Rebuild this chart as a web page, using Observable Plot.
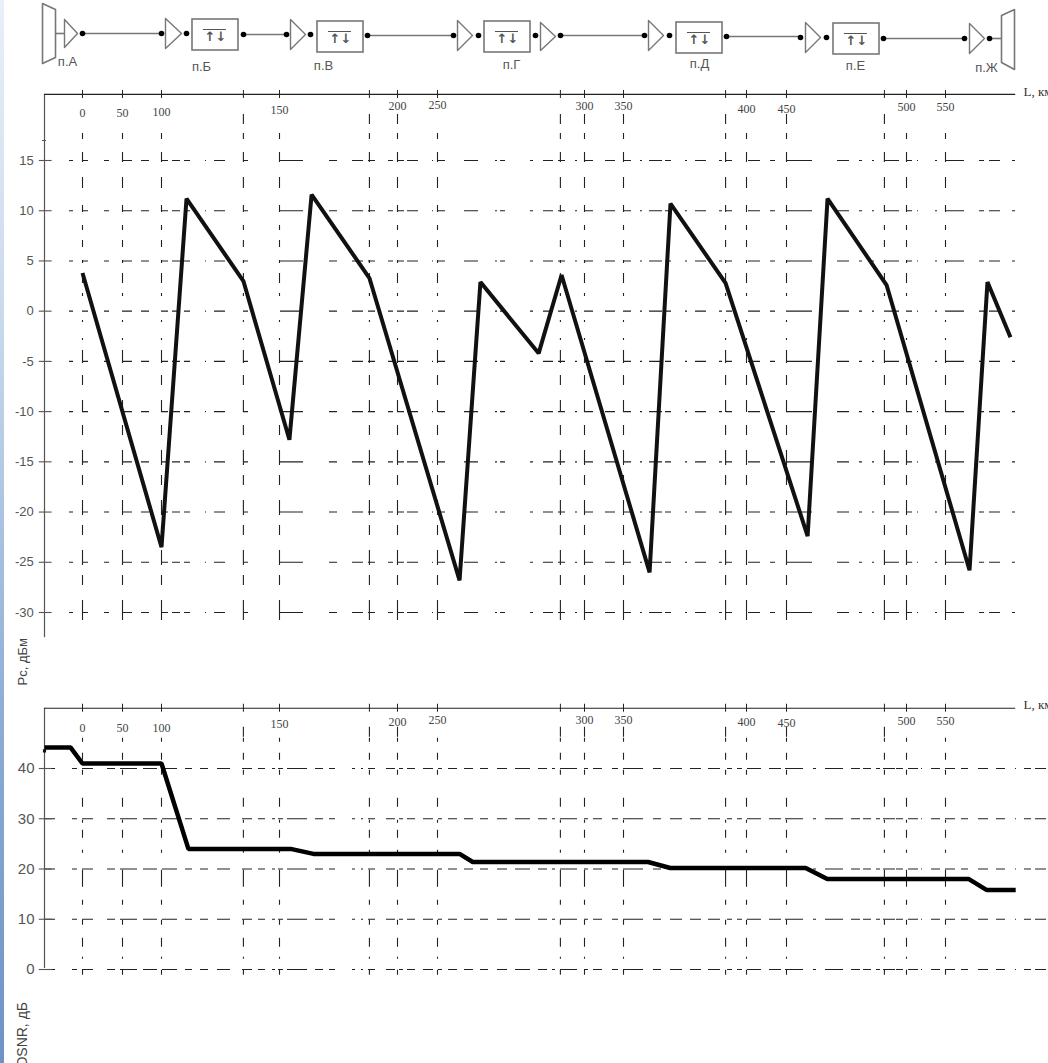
<!DOCTYPE html>
<html><head><meta charset="utf-8">
<script src="https://cdn.jsdelivr.net/npm/d3@7"></script>
<script src="https://cdn.jsdelivr.net/npm/@observablehq/plot@0.6"></script>
<style>
html,body{margin:0;padding:0;background:#fff;overflow:hidden}
#page{position:relative;width:1048px;height:1063px;overflow:hidden;background:#fff}
#stripe{position:absolute;left:0;top:0;width:4px;height:1063px;background:linear-gradient(#e8f0f8,#c9d9ec 30%,#8aaad3 70%,#6f93c6)}
#page svg{display:block;position:absolute;left:0;background:transparent}
</style></head><body><div id="page"><div id="stripe"></div></div>
<script>
// Distance axis (non-uniform, as printed)
const kmTicks=[0,50,100,150,200,250,300,350,400,450,500,550];
const kmPixels=[82,122,161,279,397,437,584,623,746,786,906,945];
const sectionEnds=[134.7,188.1,291.8,391.5,490.8];
const upperDashKm=[134.7,188.1,200,291.8,300,350,391.5,450,490.8];
const xAxisFrom=-47.5, xAxisTo=640, xGridFrom=-16.25, xEnd=640, xEndOsnr=679.5;

// Pc, dBm
const pcKm=[0,100,110.6,134.7,154.2,163.6,188.1,257.5,264.6,284.4,292.2,360.6,369.1,391.5,458.8,467.1,491.7,580.8,603.8,633.3];
const pcDb=[3.8,-23.5,11.2,3,-12.8,11.6,3.3,-26.8,2.9,-4.2,3.6,-26,10.7,2.8,-22.4,11.2,2.6,-25.8,2.9,-2.6];
const pcTicks=[15,10,5,0,-5,-10,-15,-20,-25,-30];
const pcLabelY=[19.7,19.7,19.8,20,20.4,20.5,20.4,20.4,20.1,20.1,20.3,20.3];

// OSNR, dB
const osnrKm=[-47.5,-15,0,100,111.4,154.7,164.4,257.5,262,360,369,458,467,580,603,640];
const osnrDb=[44.2,44.2,41,41,24,24,23,23,21.4,21.4,20.2,20.2,18,18,15.8,15.8];
const osnrTicks=[40,30,20,10,0];
const osnrLabelY=[48,48,48,48.8,49.2,49.6,49.6,49.6,49.2,49,49.4,49.4];

// Dash rhythm of the scanned grid lines (start,end along the line)
const pcRow=[[69,73],[82,88],[104,109],[122,132],[141,149],[161,168],[172,180],[184,190],[205,206],[214,225],[243,248],[280,303],[329,337],[352,363],[368,375],[388,393],[397,404],[407,418],[432,433],[438,445],[464,478],[495,497],[500,505],[530,533],[543,553],[558,565],[575,577],[584,593],[605,615],[623,631],[640,642],[649,662],[665,671],[685,687],[695,706],[719,722],[726,732],[748,760],[770,775],[786,812],[837,849],[859,862],[872,874],[884,899],[906,912],[917,918],[935,937],[945,964],[979,984],[989,1000],[1012,1015]];
const osnrRow=[[44,55],[72,77],[82,93],[107,115],[120,137],[143,157],[162,177],[185,192],[200,208],[217,230],[242,252],[258,265],[272,275],[278,283],[287,307],[315,323],[329,335],[352,355],[361,363],[368,375],[386,395],[399,403],[407,415],[423,433],[438,442],[448,457],[464,473],[480,488],[497,507],[515,530],[538,547],[552,555],[560,577],[584,588],[593,602],[612,618],[623,643],[653,661],[670,682],[690,701],[708,720],[727,732],[737,742],[747,761],[769,781],[785,803],[813,816],[825,843],[851,860],[863,871],[876,880],[883,895],[896,903],[908,918],[921,922],[931,940],[945,955],[961,968],[978,988],[996,1005],[1015,1016],[1024,1031],[1035,1046]];
const pcCol=[[133,139],[152,162],[177,188],[205,212],[225,230],[240,247],[260,263],[273,283],[293,296],[320,322],[338,340],[350,363],[375,385],[400,412],[425,435],[450,465],[475,485],[500,515],[525,535],[550,565],[575,585],[600,620]];
const osnrCol=[[738,742],[753,760],[770,775],[798,807],[820,823],[830,838],[850,853],[870,887],[900,905],[920,925],[938,947],[957,959],[970,975]];
const dashes=s=>s.flatMap((p,i)=>i<s.length-1?[p[1]-p[0],s[i+1][0]-p[1]]:[p[1]-p[0],2000]).join(",");

// Schematic
const ampAt=[[64,33,13,14],[165,33,16,15],[290,34,15,15],[457,35,15,15],[540,36,15,14],[648,35,15,15],[805,37,15,15],[969,38,15,15]];
const boxAt=[[192,19],[317,21],[484,21],[676,22],[833,23]];
const dotAt=[[82,33],[161,33],[186,33],[243,34],[286,34],[310,34],[367,35],[453,35],[478,35],[535,35],[560,35],[644,35],[669,35],[726,36],[800,37],[826,37],[883,38],[964,38],[989,38]];
const wires=[[55,64,33],[82,161,33],[243,286,34],[367,453,35],[560,644,35],[726,800,36],[883,964,38],[989,1001,38]];
const muxLeft=[[42,3],[55,9],[55,57],[42,63],[42,3]];
const muxRight=[[1001,15],[1014,9],[1014,69],[1001,62],[1001,15]];
const siteNames=["п.А","п.Б","п.В","п.Г","п.Д","п.Е","п.Ж"];
const siteX=[67,201,323,511,699,855,986];
const siteY=[61,66,65,64,63,65,67];

const ink="#111", axisGrey="#555", wire="#777";
const kmToPixel=d3.scaleLinear(kmTicks,kmPixels);
const xScale={transform:kmToPixel,domain:[0,1048],range:[0,1048],axis:null};
const add=(plot,top)=>{plot.style.top=top+"px";document.getElementById("page").appendChild(plot)};
const at=v=>()=>v;

// schematic
add(Plot.plot({width:1048,height:85,margin:0,
  x:{domain:[0,1048],range:[0,1048],axis:null},y:{domain:[0,85],range:[0,85],axis:null},
  marks:[
    ...wires.map(w=>Plot.ruleY([w[2]],{x1:at(w[0]),x2:at(w[1]),stroke:wire,strokeWidth:1.6})),
    ...ampAt.map(a=>Plot.line([[a[0],a[1]-a[3]],[a[0]+a[2],a[1]],[a[0],a[1]+a[3]],[a[0],a[1]-a[3]]],{stroke:wire,strokeWidth:1.4})),
    Plot.rect(boxAt,{x1:d=>d[0],x2:d=>d[0]+46,y1:d=>d[1],y2:d=>d[1]+31,stroke:wire,strokeWidth:1.6,fill:"none"}),
    Plot.ruleY(boxAt,{y:d=>d[1]+10,x1:d=>d[0]+11,x2:d=>d[0]+34,stroke:"#555",strokeWidth:1}),
    Plot.text(boxAt,{x:d=>d[0]+23,y:d=>d[1]+17,text:()=>"↑↓",fontSize:13,fontWeight:"bold",fontFamily:"DejaVu Sans",fill:"#555"}),
    Plot.dot(dotAt,{x:"0",y:"1",r:2.8,fill:"#000"}),
    Plot.line(muxLeft,{stroke:wire,strokeWidth:1.6}),
    Plot.line(muxRight,{stroke:wire,strokeWidth:1.6}),
    Plot.text(siteNames,{x:(d,i)=>siteX[i],y:(d,i)=>siteY[i],text:d=>d,fontSize:13,fontFamily:"Liberation Sans",fill:"#555"})
  ]}),0);

const gridLines=[...kmTicks,...sectionEnds];
// Pc panel
const pcY=v=>15-(v-160)/10.04;
add(Plot.plot({width:1048,height:615,margin:0,x:xScale,
  y:{domain:[15,-30],range:[75,527],axis:null},
  marks:[
    Plot.ruleY(pcTicks,{x1:at(xGridFrom),x2:at(xEnd),stroke:"#222",strokeWidth:1.1,strokeDasharray:dashes(pcRow)}),
    Plot.ruleX(gridLines,{y1:at(pcY(133)),y2:at(pcY(620)),stroke:"#222",strokeWidth:1.1,strokeDasharray:dashes(pcCol)}),
    Plot.ruleX(upperDashKm,{y1:at(pcY(114)),y2:at(pcY(124)),stroke:"#222",strokeWidth:1.1}),
    Plot.ruleX([xAxisFrom],{y1:at(pcY(94)),y2:at(pcY(637)),stroke:axisGrey,strokeWidth:1.2}),
    Plot.ruleY([pcY(94)],{x1:at(xAxisFrom),x2:at(xAxisTo),stroke:"#222",strokeWidth:1.2}),
    Plot.ruleY([pcY(140)],{x1:at(-50),x2:at(-45),stroke:axisGrey,strokeWidth:1}),
    Plot.ruleX(gridLines,{y1:at(pcY(90)),y2:at(pcY(98)),stroke:"#222",strokeWidth:1}),
    Plot.ruleY(pcTicks,{x1:at(-54),x2:at(-38),stroke:axisGrey,strokeWidth:1.1}),
    Plot.text(pcTicks,{x:at(-61),y:d=>d,text:d=>d<0?"-"+Math.abs(d):String(d),textAnchor:"end",fontSize:13,fontFamily:"Liberation Sans",fill:"#555"}),
    Plot.text(kmTicks,{x:d=>d,y:(d,i)=>pcLabelY[i],text:String,fontSize:12,fontFamily:"Liberation Serif",fill:"#444"}),
    Plot.text(["L, км"],{x:at(xEnd+10),y:at(pcY(91)),textAnchor:"start",fontSize:13,fontFamily:"Liberation Serif",fill:"#333"}),
    Plot.text(["Pc, дБм"],{x:at(-75),y:at(pcY(661)),rotate:-90,fontSize:13,fontFamily:"Liberation Sans",fill:"#444"}),
    Plot.line(pcKm.map((k,i)=>[k,pcDb[i]]),{stroke:ink,strokeWidth:4,strokeLinejoin:"miter",strokeLinecap:"butt"})
  ]}),85);

// OSNR panel
const osY=v=>(969-v)/5.02;
add(Plot.plot({width:1048,height:403,margin:0,x:xScale,
  y:{domain:[40,0],range:[108,309],axis:null},
  marks:[
    Plot.ruleY(osnrTicks,{x1:at(-47.5),x2:at(xEndOsnr),stroke:"#222",strokeWidth:1.1,strokeDasharray:dashes(osnrRow)}),
    Plot.ruleX(gridLines,{y1:at(osY(738)),y2:at(osY(975)),stroke:"#222",strokeWidth:1.1,strokeDasharray:dashes(osnrCol)}),
    Plot.ruleX(upperDashKm,{y1:at(osY(727)),y2:at(osY(737)),stroke:"#222",strokeWidth:1.1}),
    Plot.ruleX([xAxisFrom],{y1:at(osY(708)),y2:at(osY(968)),stroke:axisGrey,strokeWidth:1.2}),
    Plot.ruleY([osY(708)],{x1:at(xAxisFrom),x2:at(xAxisTo),stroke:"#222",strokeWidth:1.2}),
    Plot.ruleX(gridLines,{y1:at(osY(704)),y2:at(osY(712)),stroke:"#222",strokeWidth:1}),
    Plot.ruleY(osnrTicks,{x1:at(-54),x2:at(-38),stroke:axisGrey,strokeWidth:1.1}),
    Plot.text(osnrTicks,{x:at(-60),y:d=>d,text:String,textAnchor:"end",fontSize:15,fontFamily:"Liberation Sans",fill:"#555"}),
    Plot.text(kmTicks,{x:d=>d,y:(d,i)=>osnrLabelY[i],text:String,fontSize:12,fontFamily:"Liberation Serif",fill:"#444"}),
    Plot.text(["L, км"],{x:at(xEnd+10),y:at(osY(705)),textAnchor:"start",fontSize:13,fontFamily:"Liberation Serif",fill:"#333"}),
    Plot.text(["OSNR, дБ"],{x:at(-75),y:at(osY(1067)),rotate:-90,textAnchor:"start",fontSize:14,fontFamily:"Liberation Sans",fill:"#444"}),
    Plot.dot([43.5],{x:at(-47.5),y:at(43.5),r:1.8,symbol:"square",fill:"#111"}),
    Plot.line(osnrKm.map((k,i)=>[k,osnrDb[i]]),{stroke:"#000",strokeWidth:4.5,strokeLinejoin:"miter",strokeLinecap:"butt"})
  ]}),660);
</script></body></html>
